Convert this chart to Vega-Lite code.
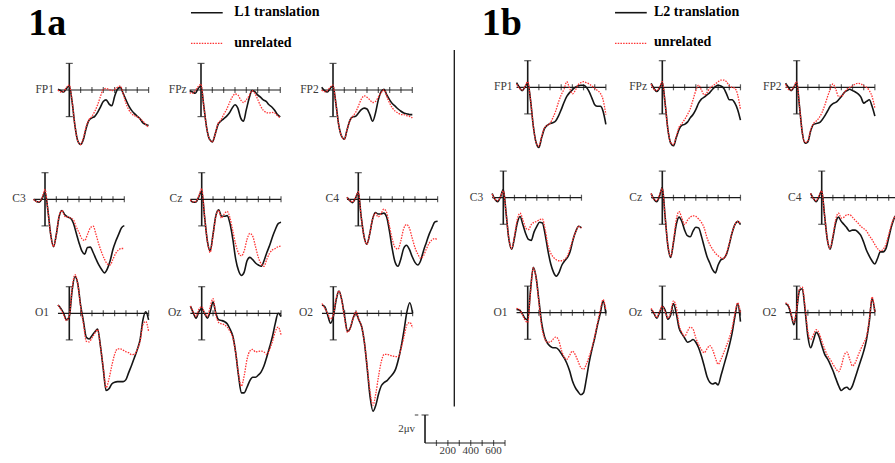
{
"$schema":"https://vega.github.io/schema/vega-lite/v6.json",
"padding":0,
"background":"white",
"config":{"view":{"stroke":null},"rule":{"color":"#1a1a1a","strokeWidth":1.2},"tick":{"color":"#1a1a1a","thickness":1.2},"text":{"font":"Liberation Serif","fontSize":11.5,"color":"#3a3a3a"}},
"datasets":{
"panels":[{"p":"aFP1","ch":"FP1","title":"1a","lk":"L1 translation","lu":"unrelated"},{"p":"aFPz","ch":"FPz"},{"p":"aFP2","ch":"FP2"},{"p":"aC3","ch":"C3"},{"p":"aCz","ch":"Cz"},{"p":"aC4","ch":"C4"},{"p":"aO1","ch":"O1"},{"p":"aOz","ch":"Oz"},{"p":"aO2","ch":"O2"},{"p":"bFP1","ch":"FP1","title":"1b","lk":"L2 translation","lu":"unrelated"},{"p":"bFPz","ch":"FPz"},{"p":"bFP2","ch":"FP2"},{"p":"bC3","ch":"C3"},{"p":"bCz","ch":"Cz"},{"p":"bC4","ch":"C4"},{"p":"bO1","ch":"O1"},{"p":"bOz","ch":"Oz"},{"p":"bO2","ch":"O2"}],
"sbticks":[{"t":0,"lab":"","unit":"2μv"},{"t":100,"lab":""},{"t":200,"lab":"200"},{"t":300,"lab":""},{"t":400,"lab":"400"},{"t":500,"lab":""},{"t":600,"lab":"600"},{"t":700,"lab":""}],
"erp":[
{"p":"aFP1","t":-100,"k":0.05,"u":0},{"p":"aFP1","t":-75,"k":-0.05,"u":-0.15},{"p":"aFP1","t":-50,"k":-0.15,"u":-0.1},{"p":"aFP1","t":-25,"k":0.12,"u":0.2},{"p":"aFP1","t":0,"k":0.3,"u":0.37},{"p":"aFP1","t":25,"k":-0.9,"u":-0.85},{"p":"aFP1","t":50,"k":-2.7,"u":-2.7},{"p":"aFP1","t":75,"k":-3.83,"u":-3.83},{"p":"aFP1","t":100,"k":-4.1,"u":-4.1},{"p":"aFP1","t":125,"k":-3.7,"u":-3.58},{"p":"aFP1","t":150,"k":-2.84,"u":-2.72},{"p":"aFP1","t":175,"k":-2.27,"u":-2.22},{"p":"aFP1","t":200,"k":-2.1,"u":-1.98},{"p":"aFP1","t":225,"k":-1.98,"u":-1.6},{"p":"aFP1","t":250,"k":-1.68,"u":-1.11},{"p":"aFP1","t":275,"k":-1.28,"u":-0.49},{"p":"aFP1","t":300,"k":-0.86,"u":0.05},{"p":"aFP1","t":325,"k":-0.74,"u":0.12},{"p":"aFP1","t":350,"k":-1.04,"u":0.05},{"p":"aFP1","t":375,"k":-1.19,"u":-0.05},{"p":"aFP1","t":400,"k":-0.49,"u":0.05},{"p":"aFP1","t":425,"k":0.05,"u":0.2},{"p":"aFP1","t":450,"k":0.2,"u":0.3},{"p":"aFP1","t":475,"k":-0.25,"u":-0.25},{"p":"aFP1","t":500,"k":-0.74,"u":-0.99},{"p":"aFP1","t":525,"k":-1.19,"u":-1.48},{"p":"aFP1","t":550,"k":-1.53,"u":-1.78},{"p":"aFP1","t":575,"k":-1.78,"u":-1.93},{"p":"aFP1","t":600,"k":-1.98,"u":-2.02},{"p":"aFP1","t":625,"k":-2.17,"u":-2.17},{"p":"aFP1","t":650,"k":-2.47,"u":-2.35},{"p":"aFP1","t":675,"k":-2.59,"u":-2.59},{"p":"aFP1","t":700,"k":-2.67,"u":-2.84},
{"p":"aFPz","t":-100,"k":-0.05,"u":-0.2},{"p":"aFPz","t":-75,"k":-0.15,"u":-0.25},{"p":"aFPz","t":-50,"k":-0.25,"u":-0.05},{"p":"aFPz","t":-25,"k":0.12,"u":0.25},{"p":"aFPz","t":0,"k":0.3,"u":0.44},{"p":"aFPz","t":25,"k":-1.23,"u":-1.23},{"p":"aFPz","t":50,"k":-2.84,"u":-2.84},{"p":"aFPz","t":75,"k":-3.7,"u":-3.7},{"p":"aFPz","t":100,"k":-3.9,"u":-3.9},{"p":"aFPz","t":125,"k":-3.33,"u":-3.33},{"p":"aFPz","t":150,"k":-2.6,"u":-2.52},{"p":"aFPz","t":175,"k":-2.35,"u":-2.27},{"p":"aFPz","t":200,"k":-2.17,"u":-1.85},{"p":"aFPz","t":225,"k":-1.98,"u":-1.48},{"p":"aFPz","t":250,"k":-1.73,"u":-0.99},{"p":"aFPz","t":275,"k":-1.36,"u":-0.54},{"p":"aFPz","t":300,"k":-1.11,"u":-0.3},{"p":"aFPz","t":325,"k":-1.36,"u":-0.37},{"p":"aFPz","t":350,"k":-2.1,"u":-0.74},{"p":"aFPz","t":375,"k":-2.35,"u":-0.94},{"p":"aFPz","t":400,"k":-1.48,"u":-0.74},{"p":"aFPz","t":425,"k":-0.62,"u":-0.44},{"p":"aFPz","t":450,"k":-0.05,"u":-0.05},{"p":"aFPz","t":475,"k":-0.12,"u":-0.25},{"p":"aFPz","t":500,"k":-0.37,"u":-0.69},{"p":"aFPz","t":525,"k":-0.54,"u":-1.19},{"p":"aFPz","t":550,"k":-0.74,"u":-1.53},{"p":"aFPz","t":575,"k":-0.86,"u":-1.68},{"p":"aFPz","t":600,"k":-1.11,"u":-1.73},{"p":"aFPz","t":625,"k":-1.28,"u":-1.68},{"p":"aFPz","t":650,"k":-1.53,"u":-1.73},{"p":"aFPz","t":675,"k":-1.85,"u":-1.93},{"p":"aFPz","t":700,"k":-2.02,"u":-2.1},
{"p":"aFP2","t":-100,"k":0.2,"u":0},{"p":"aFP2","t":-75,"k":-0.05,"u":-0.12},{"p":"aFP2","t":-50,"k":-0.15,"u":-0.05},{"p":"aFP2","t":-25,"k":0.12,"u":0.2},{"p":"aFP2","t":0,"k":0.3,"u":0.37},{"p":"aFP2","t":25,"k":-0.99,"u":-0.99},{"p":"aFP2","t":50,"k":-2.6,"u":-2.6},{"p":"aFP2","t":75,"k":-3.46,"u":-3.46},{"p":"aFP2","t":100,"k":-3.7,"u":-3.7},{"p":"aFP2","t":125,"k":-2.96,"u":-2.96},{"p":"aFP2","t":150,"k":-2.27,"u":-2.27},{"p":"aFP2","t":175,"k":-2.02,"u":-1.98},{"p":"aFP2","t":200,"k":-1.98,"u":-1.68},{"p":"aFP2","t":225,"k":-1.73,"u":-1.19},{"p":"aFP2","t":250,"k":-1.48,"u":-0.69},{"p":"aFP2","t":275,"k":-1.36,"u":-0.44},{"p":"aFP2","t":300,"k":-1.43,"u":-0.54},{"p":"aFP2","t":325,"k":-1.85,"u":-0.74},{"p":"aFP2","t":350,"k":-2.35,"u":-0.94},{"p":"aFP2","t":375,"k":-1.73,"u":-0.86},{"p":"aFP2","t":400,"k":-0.74,"u":-0.54},{"p":"aFP2","t":425,"k":-0.12,"u":-0.2},{"p":"aFP2","t":450,"k":0.05,"u":0},{"p":"aFP2","t":475,"k":-0.37,"u":-0.49},{"p":"aFP2","t":500,"k":-0.74,"u":-0.99},{"p":"aFP2","t":525,"k":-1.04,"u":-1.36},{"p":"aFP2","t":550,"k":-1.23,"u":-1.6},{"p":"aFP2","t":575,"k":-1.43,"u":-1.73},{"p":"aFP2","t":600,"k":-1.6,"u":-1.85},{"p":"aFP2","t":625,"k":-1.73,"u":-1.85},{"p":"aFP2","t":650,"k":-1.78,"u":-1.93},{"p":"aFP2","t":675,"k":-1.85,"u":-1.98},{"p":"aFP2","t":700,"k":-1.85,"u":-2.1},
{"p":"aC3","t":-100,"k":0,"u":0},{"p":"aC3","t":-75,"k":-0.17,"u":-0.17},{"p":"aC3","t":-50,"k":-0.22,"u":-0.17},{"p":"aC3","t":-25,"k":0.07,"u":0.15},{"p":"aC3","t":0,"k":0.52,"u":0.74},{"p":"aC3","t":25,"k":-0.79,"u":-0.79},{"p":"aC3","t":50,"k":-2.64,"u":-2.64},{"p":"aC3","t":75,"k":-3.56,"u":-3.56},{"p":"aC3","t":100,"k":-2.64,"u":-2.64},{"p":"aC3","t":125,"k":-1.28,"u":-1.23},{"p":"aC3","t":150,"k":-0.84,"u":-0.84},{"p":"aC3","t":175,"k":-1.16,"u":-1.28},{"p":"aC3","t":200,"k":-1.33,"u":-1.33},{"p":"aC3","t":225,"k":-1.41,"u":-1.41},{"p":"aC3","t":250,"k":-1.78,"u":-1.53},{"p":"aC3","t":275,"k":-2.52,"u":-2.07},{"p":"aC3","t":300,"k":-3.26,"u":-2.49},{"p":"aC3","t":325,"k":-3.88,"u":-2.96},{"p":"aC3","t":350,"k":-4.12,"u":-3.09},{"p":"aC3","t":375,"k":-3.63,"u":-2.64},{"p":"aC3","t":400,"k":-3.6,"u":-2.15},{"p":"aC3","t":425,"k":-4.0,"u":-2.02},{"p":"aC3","t":450,"k":-4.49,"u":-2.64},{"p":"aC3","t":475,"k":-4.94,"u":-3.38},{"p":"aC3","t":500,"k":-5.28,"u":-4.0},{"p":"aC3","t":525,"k":-5.53,"u":-4.5},{"p":"aC3","t":550,"k":-5.23,"u":-4.86},{"p":"aC3","t":575,"k":-4.62,"u":-4.94},{"p":"aC3","t":600,"k":-3.75,"u":-4.5},{"p":"aC3","t":625,"k":-3.14,"u":-4.05},{"p":"aC3","t":650,"k":-2.64,"u":-3.8},{"p":"aC3","t":675,"k":-2.15,"u":-3.7},{"p":"aC3","t":700,"k":-1.98,"u":-3.7},
{"p":"aCz","t":-100,"k":-0.05,"u":-0.05},{"p":"aCz","t":-75,"k":-0.22,"u":-0.2},{"p":"aCz","t":-50,"k":-0.2,"u":-0.15},{"p":"aCz","t":-25,"k":0.2,"u":0.25},{"p":"aCz","t":0,"k":0.64,"u":0.81},{"p":"aCz","t":25,"k":-1.28,"u":-1.28},{"p":"aCz","t":50,"k":-3.14,"u":-3.14},{"p":"aCz","t":75,"k":-3.88,"u":-4.0},{"p":"aCz","t":100,"k":-2.64,"u":-2.72},{"p":"aCz","t":125,"k":-1.23,"u":-1.28},{"p":"aCz","t":150,"k":-0.79,"u":-0.84},{"p":"aCz","t":175,"k":-1.28,"u":-1.41},{"p":"aCz","t":200,"k":-1.28,"u":-1.09},{"p":"aCz","t":225,"k":-1.23,"u":-0.91},{"p":"aCz","t":250,"k":-1.83,"u":-1.41},{"p":"aCz","t":275,"k":-3.01,"u":-2.4},{"p":"aCz","t":300,"k":-4.5,"u":-3.38},{"p":"aCz","t":325,"k":-5.36,"u":-4.05},{"p":"aCz","t":350,"k":-5.73,"u":-4.25},{"p":"aCz","t":375,"k":-5.48,"u":-3.88},{"p":"aCz","t":400,"k":-4.62,"u":-3.01},{"p":"aCz","t":425,"k":-4.37,"u":-2.57},{"p":"aCz","t":450,"k":-4.54,"u":-2.77},{"p":"aCz","t":475,"k":-4.79,"u":-3.56},{"p":"aCz","t":500,"k":-4.94,"u":-4.37},{"p":"aCz","t":525,"k":-5.04,"u":-4.86},{"p":"aCz","t":550,"k":-4.62,"u":-5.04},{"p":"aCz","t":575,"k":-4.0,"u":-4.5},{"p":"aCz","t":600,"k":-3.46,"u":-4.05},{"p":"aCz","t":625,"k":-2.81,"u":-3.8},{"p":"aCz","t":650,"k":-2.27,"u":-3.7},{"p":"aCz","t":675,"k":-1.83,"u":-3.56},{"p":"aCz","t":700,"k":-1.73,"u":-3.51},
{"p":"aC4","t":-100,"k":0.15,"u":0.15},{"p":"aC4","t":-75,"k":-0.1,"u":-0.1},{"p":"aC4","t":-50,"k":-0.25,"u":-0.2},{"p":"aC4","t":-25,"k":0.07,"u":0.12},{"p":"aC4","t":0,"k":0.52,"u":0.57},{"p":"aC4","t":25,"k":-1.28,"u":-1.28},{"p":"aC4","t":50,"k":-2.77,"u":-2.77},{"p":"aC4","t":75,"k":-3.38,"u":-3.38},{"p":"aC4","t":100,"k":-2.64,"u":-2.64},{"p":"aC4","t":125,"k":-1.53,"u":-1.53},{"p":"aC4","t":150,"k":-0.99,"u":-1.04},{"p":"aC4","t":175,"k":-1.11,"u":-1.33},{"p":"aC4","t":200,"k":-1.11,"u":-1.09},{"p":"aC4","t":225,"k":-1.04,"u":-0.74},{"p":"aC4","t":250,"k":-1.33,"u":-0.99},{"p":"aC4","t":275,"k":-2.4,"u":-2.02},{"p":"aC4","t":300,"k":-3.75,"u":-3.01},{"p":"aC4","t":325,"k":-4.74,"u":-3.63},{"p":"aC4","t":350,"k":-5.04,"u":-3.75},{"p":"aC4","t":375,"k":-4.5,"u":-3.14},{"p":"aC4","t":400,"k":-3.7,"u":-2.22},{"p":"aC4","t":425,"k":-3.46,"u":-1.9},{"p":"aC4","t":450,"k":-3.75,"u":-2.15},{"p":"aC4","t":475,"k":-4.3,"u":-2.89},{"p":"aC4","t":500,"k":-4.74,"u":-3.63},{"p":"aC4","t":525,"k":-4.94,"u":-4.12},{"p":"aC4","t":550,"k":-4.62,"u":-4.44},{"p":"aC4","t":575,"k":-3.88,"u":-4.25},{"p":"aC4","t":600,"k":-3.26,"u":-3.75},{"p":"aC4","t":625,"k":-2.64,"u":-3.31},{"p":"aC4","t":650,"k":-2.15,"u":-3.06},{"p":"aC4","t":675,"k":-1.7,"u":-2.96},{"p":"aC4","t":700,"k":-1.65,"u":-3.06},
{"p":"aO1","t":-100,"k":0.62,"u":0.62},{"p":"aO1","t":-75,"k":0.37,"u":0.3},{"p":"aO1","t":-50,"k":0,"u":-0.12},{"p":"aO1","t":-25,"k":-0.49,"u":-0.54},{"p":"aO1","t":0,"k":-0.25,"u":-0.2},{"p":"aO1","t":25,"k":1.73,"u":1.85},{"p":"aO1","t":50,"k":2.77,"u":2.91},{"p":"aO1","t":75,"k":2.22,"u":2.22},{"p":"aO1","t":100,"k":0.6,"u":0.5},{"p":"aO1","t":125,"k":-0.6,"u":-0.8},{"p":"aO1","t":150,"k":-1.8,"u":-2.1},{"p":"aO1","t":175,"k":-1.93,"u":-2.15},{"p":"aO1","t":200,"k":-1.68,"u":-1.85},{"p":"aO1","t":225,"k":-1.41,"u":-1.5},{"p":"aO1","t":250,"k":-1.19,"u":-1.23},{"p":"aO1","t":275,"k":-2.47,"u":-2.5},{"p":"aO1","t":300,"k":-4.2,"u":-4.1},{"p":"aO1","t":325,"k":-5.8,"u":-5.6},{"p":"aO1","t":350,"k":-5.68,"u":-4.94},{"p":"aO1","t":375,"k":-5.31,"u":-3.95},{"p":"aO1","t":400,"k":-5.19,"u":-3.1},{"p":"aO1","t":425,"k":-5.14,"u":-2.67},{"p":"aO1","t":450,"k":-5.14,"u":-2.67},{"p":"aO1","t":475,"k":-5.14,"u":-2.77},{"p":"aO1","t":500,"k":-4.99,"u":-2.89},{"p":"aO1","t":525,"k":-4.44,"u":-2.96},{"p":"aO1","t":550,"k":-3.9,"u":-3.11},{"p":"aO1","t":575,"k":-3.33,"u":-3.09},{"p":"aO1","t":600,"k":-2.72,"u":-2.72},{"p":"aO1","t":625,"k":-1.98,"u":-2.1},{"p":"aO1","t":650,"k":-0.49,"u":-0.86},{"p":"aO1","t":675,"k":0.12,"u":-0.62},{"p":"aO1","t":700,"k":-0.49,"u":-1.36},
{"p":"aOz","t":-100,"k":0.54,"u":0.54},{"p":"aOz","t":-75,"k":0.05,"u":0.12},{"p":"aOz","t":-50,"k":-0.37,"u":-0.25},{"p":"aOz","t":-25,"k":0.12,"u":0.3},{"p":"aOz","t":0,"k":0.37,"u":0.49},{"p":"aOz","t":25,"k":0,"u":0.05},{"p":"aOz","t":50,"k":-0.37,"u":-0.25},{"p":"aOz","t":75,"k":0.12,"u":0.49},{"p":"aOz","t":100,"k":0.86,"u":1.11},{"p":"aOz","t":125,"k":0,"u":-0.12},{"p":"aOz","t":150,"k":-0.49,"u":-0.69},{"p":"aOz","t":175,"k":-0.54,"u":-0.79},{"p":"aOz","t":200,"k":-0.62,"u":-0.86},{"p":"aOz","t":225,"k":-0.79,"u":-1.04},{"p":"aOz","t":250,"k":-1.19,"u":-1.36},{"p":"aOz","t":275,"k":-1.73,"u":-1.85},{"p":"aOz","t":300,"k":-2.96,"u":-2.96},{"p":"aOz","t":325,"k":-4.69,"u":-4.57},{"p":"aOz","t":350,"k":-5.98,"u":-5.48},{"p":"aOz","t":375,"k":-5.98,"u":-4.69},{"p":"aOz","t":400,"k":-5.56,"u":-3.46},{"p":"aOz","t":425,"k":-5.06,"u":-2.84},{"p":"aOz","t":450,"k":-4.81,"u":-2.72},{"p":"aOz","t":475,"k":-4.81,"u":-2.91},{"p":"aOz","t":500,"k":-4.64,"u":-2.86},{"p":"aOz","t":525,"k":-4.4,"u":-2.84},{"p":"aOz","t":550,"k":-3.95,"u":-2.91},{"p":"aOz","t":575,"k":-3.26,"u":-3.09},{"p":"aOz","t":600,"k":-2.52,"u":-2.72},{"p":"aOz","t":625,"k":-1.73,"u":-2.1},{"p":"aOz","t":650,"k":-0.74,"u":-1.36},{"p":"aOz","t":675,"k":0,"u":-1.04},{"p":"aOz","t":700,"k":-0.25,"u":-1.6},
{"p":"aO2","t":-100,"k":0.62,"u":0.74},{"p":"aO2","t":-75,"k":0.49,"u":0.37},{"p":"aO2","t":-50,"k":-0.12,"u":0},{"p":"aO2","t":-25,"k":-0.74,"u":-0.44},{"p":"aO2","t":0,"k":-0.25,"u":-0.12},{"p":"aO2","t":25,"k":0.99,"u":1.11},{"p":"aO2","t":50,"k":1.68,"u":1.68},{"p":"aO2","t":75,"k":0.99,"u":0.94},{"p":"aO2","t":100,"k":-0.25,"u":-0.37},{"p":"aO2","t":125,"k":-1.36,"u":-1.43},{"p":"aO2","t":150,"k":-1.11,"u":-1.11},{"p":"aO2","t":175,"k":-0.37,"u":-0.37},{"p":"aO2","t":200,"k":0.05,"u":0.12},{"p":"aO2","t":225,"k":-0.49,"u":-0.49},{"p":"aO2","t":250,"k":-0.99,"u":-0.99},{"p":"aO2","t":275,"k":-2.22,"u":-2.22},{"p":"aO2","t":300,"k":-4.2,"u":-4.07},{"p":"aO2","t":325,"k":-6.3,"u":-5.93},{"p":"aO2","t":350,"k":-7.36,"u":-6.91},{"p":"aO2","t":375,"k":-6.91,"u":-6.05},{"p":"aO2","t":400,"k":-6.05,"u":-4.69},{"p":"aO2","t":425,"k":-5.43,"u":-3.58},{"p":"aO2","t":450,"k":-5.19,"u":-3.09},{"p":"aO2","t":475,"k":-5.06,"u":-3.09},{"p":"aO2","t":500,"k":-4.81,"u":-3.16},{"p":"aO2","t":525,"k":-4.57,"u":-3.21},{"p":"aO2","t":550,"k":-4.2,"u":-3.26},{"p":"aO2","t":575,"k":-3.46,"u":-3.26},{"p":"aO2","t":600,"k":-2.47,"u":-2.59},{"p":"aO2","t":625,"k":-1.23,"u":-1.73},{"p":"aO2","t":650,"k":0.12,"u":-0.86},{"p":"aO2","t":675,"k":0.79,"u":-0.69},{"p":"aO2","t":700,"k":0,"u":-1.11},
{"p":"bFP1","t":-100,"k":0.35,"u":0.25},{"p":"bFP1","t":-75,"k":0,"u":-0.07},{"p":"bFP1","t":-50,"k":-0.25,"u":-0.2},{"p":"bFP1","t":-25,"k":0,"u":0.05},{"p":"bFP1","t":0,"k":0.35,"u":0.42},{"p":"bFP1","t":25,"k":-0.94,"u":-0.94},{"p":"bFP1","t":50,"k":-2.91,"u":-2.91},{"p":"bFP1","t":75,"k":-4.15,"u":-4.15},{"p":"bFP1","t":100,"k":-4.52,"u":-4.44},{"p":"bFP1","t":125,"k":-3.78,"u":-3.7},{"p":"bFP1","t":150,"k":-3.11,"u":-3.04},{"p":"bFP1","t":175,"k":-2.86,"u":-2.86},{"p":"bFP1","t":200,"k":-2.72,"u":-2.72},{"p":"bFP1","t":225,"k":-2.67,"u":-2.3},{"p":"bFP1","t":250,"k":-2.54,"u":-1.8},{"p":"bFP1","t":275,"k":-2.17,"u":-1.14},{"p":"bFP1","t":300,"k":-1.68,"u":-0.57},{"p":"bFP1","t":325,"k":-1.14,"u":-0.15},{"p":"bFP1","t":350,"k":-0.69,"u":0.42},{"p":"bFP1","t":375,"k":-0.4,"u":-0.07},{"p":"bFP1","t":400,"k":-0.2,"u":-0.49},{"p":"bFP1","t":425,"k":0,"u":-0.25},{"p":"bFP1","t":450,"k":0.1,"u":0.17},{"p":"bFP1","t":475,"k":0.15,"u":0.35},{"p":"bFP1","t":500,"k":0.15,"u":0.42},{"p":"bFP1","t":525,"k":0,"u":0.35},{"p":"bFP1","t":550,"k":-0.32,"u":0.25},{"p":"bFP1","t":575,"k":-0.81,"u":0.1},{"p":"bFP1","t":600,"k":-1.31,"u":-0.07},{"p":"bFP1","t":625,"k":-1.43,"u":-0.25},{"p":"bFP1","t":650,"k":-1.43,"u":-0.44},{"p":"bFP1","t":675,"k":-1.8,"u":-0.94},{"p":"bFP1","t":700,"k":-2.79,"u":-2.05},
{"p":"bFPz","t":-100,"k":0.3,"u":0.25},{"p":"bFPz","t":-75,"k":-0.07,"u":-0.15},{"p":"bFPz","t":-50,"k":-0.32,"u":-0.25},{"p":"bFPz","t":-25,"k":-0.07,"u":0},{"p":"bFPz","t":0,"k":0.35,"u":0.42},{"p":"bFPz","t":25,"k":-1.19,"u":-1.19},{"p":"bFPz","t":50,"k":-3.16,"u":-3.16},{"p":"bFPz","t":75,"k":-4.2,"u":-4.15},{"p":"bFPz","t":100,"k":-4.4,"u":-4.3},{"p":"bFPz","t":125,"k":-3.78,"u":-3.7},{"p":"bFPz","t":150,"k":-3.16,"u":-3.01},{"p":"bFPz","t":175,"k":-2.86,"u":-2.72},{"p":"bFPz","t":200,"k":-2.79,"u":-2.42},{"p":"bFPz","t":225,"k":-2.62,"u":-2.05},{"p":"bFPz","t":250,"k":-2.3,"u":-1.63},{"p":"bFPz","t":275,"k":-2.05,"u":-0.94},{"p":"bFPz","t":300,"k":-1.68,"u":-0.25},{"p":"bFPz","t":325,"k":-1.19,"u":0.17},{"p":"bFPz","t":350,"k":-0.89,"u":-0.2},{"p":"bFPz","t":375,"k":-0.74,"u":-0.57},{"p":"bFPz","t":400,"k":-0.57,"u":-0.4},{"p":"bFPz","t":425,"k":-0.4,"u":-0.07},{"p":"bFPz","t":450,"k":-0.15,"u":0.1},{"p":"bFPz","t":475,"k":0.05,"u":0.25},{"p":"bFPz","t":500,"k":0.15,"u":0.42},{"p":"bFPz","t":525,"k":0.1,"u":0.54},{"p":"bFPz","t":550,"k":-0.07,"u":0.54},{"p":"bFPz","t":575,"k":-0.49,"u":0.42},{"p":"bFPz","t":600,"k":-0.94,"u":0.1},{"p":"bFPz","t":625,"k":-0.94,"u":0},{"p":"bFPz","t":650,"k":-1.19,"u":-0.07},{"p":"bFPz","t":675,"k":-1.68,"u":-0.57},{"p":"bFPz","t":700,"k":-2.47,"u":-1.68},
{"p":"bFP2","t":-100,"k":0.3,"u":0.25},{"p":"bFP2","t":-75,"k":0,"u":-0.15},{"p":"bFP2","t":-50,"k":-0.25,"u":-0.2},{"p":"bFP2","t":-25,"k":0,"u":0.05},{"p":"bFP2","t":0,"k":0.35,"u":0.42},{"p":"bFP2","t":25,"k":-1.43,"u":-1.43},{"p":"bFP2","t":50,"k":-3.41,"u":-3.41},{"p":"bFP2","t":75,"k":-4.2,"u":-4.15},{"p":"bFP2","t":100,"k":-4.1,"u":-4.02},{"p":"bFP2","t":125,"k":-3.28,"u":-3.21},{"p":"bFP2","t":150,"k":-2.79,"u":-2.72},{"p":"bFP2","t":175,"k":-2.72,"u":-2.54},{"p":"bFP2","t":200,"k":-2.67,"u":-2.3},{"p":"bFP2","t":225,"k":-2.47,"u":-1.93},{"p":"bFP2","t":250,"k":-2.17,"u":-1.38},{"p":"bFP2","t":275,"k":-1.8,"u":-0.74},{"p":"bFP2","t":300,"k":-1.43,"u":-0.15},{"p":"bFP2","t":325,"k":-1.23,"u":0.25},{"p":"bFP2","t":350,"k":-1.14,"u":-0.15},{"p":"bFP2","t":375,"k":-0.94,"u":-0.69},{"p":"bFP2","t":400,"k":-0.69,"u":-0.69},{"p":"bFP2","t":425,"k":-0.4,"u":-0.4},{"p":"bFP2","t":450,"k":-0.25,"u":-0.15},{"p":"bFP2","t":475,"k":-0.15,"u":0},{"p":"bFP2","t":500,"k":-0.25,"u":0.1},{"p":"bFP2","t":525,"k":-0.35,"u":0.25},{"p":"bFP2","t":550,"k":-0.49,"u":0.3},{"p":"bFP2","t":575,"k":-0.74,"u":0.25},{"p":"bFP2","t":600,"k":-1.19,"u":0.1},{"p":"bFP2","t":625,"k":-1.06,"u":0},{"p":"bFP2","t":650,"k":-0.94,"u":-0.25},{"p":"bFP2","t":675,"k":-1.43,"u":-0.69},{"p":"bFP2","t":700,"k":-2.17,"u":-1.56},
{"p":"bC3","t":-100,"k":0.32,"u":0.27},{"p":"bC3","t":-75,"k":-0.12,"u":-0.12},{"p":"bC3","t":-50,"k":-0.3,"u":-0.22},{"p":"bC3","t":-25,"k":0.07,"u":0.07},{"p":"bC3","t":0,"k":0.62,"u":0.52},{"p":"bC3","t":25,"k":-1.16,"u":-1.16},{"p":"bC3","t":50,"k":-3.14,"u":-3.09},{"p":"bC3","t":75,"k":-3.88,"u":-3.83},{"p":"bC3","t":100,"k":-3.01,"u":-2.89},{"p":"bC3","t":125,"k":-1.9,"u":-1.65},{"p":"bC3","t":150,"k":-1.41,"u":-1.16},{"p":"bC3","t":175,"k":-2.02,"u":-1.65},{"p":"bC3","t":200,"k":-2.69,"u":-2.27},{"p":"bC3","t":225,"k":-3.14,"u":-2.4},{"p":"bC3","t":250,"k":-3.21,"u":-2.02},{"p":"bC3","t":275,"k":-2.59,"u":-1.85},{"p":"bC3","t":300,"k":-2.15,"u":-1.78},{"p":"bC3","t":325,"k":-1.85,"u":-1.65},{"p":"bC3","t":350,"k":-1.9,"u":-1.6},{"p":"bC3","t":375,"k":-2.77,"u":-2.4},{"p":"bC3","t":400,"k":-4.0,"u":-3.58},{"p":"bC3","t":425,"k":-4.99,"u":-4.17},{"p":"bC3","t":450,"k":-5.61,"u":-4.49},{"p":"bC3","t":475,"k":-5.9,"u":-4.67},{"p":"bC3","t":500,"k":-5.61,"u":-4.74},{"p":"bC3","t":525,"k":-5.06,"u":-4.74},{"p":"bC3","t":550,"k":-4.74,"u":-4.62},{"p":"bC3","t":575,"k":-4.49,"u":-4.37},{"p":"bC3","t":600,"k":-4.0,"u":-3.75},{"p":"bC3","t":625,"k":-3.14,"u":-3.09},{"p":"bC3","t":650,"k":-2.52,"u":-2.52},{"p":"bC3","t":675,"k":-2.15,"u":-2.15},{"p":"bC3","t":700,"k":-2.27,"u":-2.27},
{"p":"bCz","t":-100,"k":0.32,"u":0.32},{"p":"bCz","t":-75,"k":-0.12,"u":-0.12},{"p":"bCz","t":-50,"k":-0.3,"u":-0.22},{"p":"bCz","t":-25,"k":0.12,"u":0.2},{"p":"bCz","t":0,"k":0.77,"u":0.69},{"p":"bCz","t":25,"k":-1.41,"u":-1.41},{"p":"bCz","t":50,"k":-3.63,"u":-3.58},{"p":"bCz","t":75,"k":-4.49,"u":-4.42},{"p":"bCz","t":100,"k":-3.38,"u":-3.26},{"p":"bCz","t":125,"k":-2.02,"u":-1.65},{"p":"bCz","t":150,"k":-1.46,"u":-1.04},{"p":"bCz","t":175,"k":-1.78,"u":-1.53},{"p":"bCz","t":200,"k":-2.44,"u":-2.02},{"p":"bCz","t":225,"k":-2.86,"u":-1.7},{"p":"bCz","t":250,"k":-2.94,"u":-1.46},{"p":"bCz","t":275,"k":-2.52,"u":-1.36},{"p":"bCz","t":300,"k":-2.22,"u":-1.41},{"p":"bCz","t":325,"k":-2.27,"u":-1.6},{"p":"bCz","t":350,"k":-2.89,"u":-1.85},{"p":"bCz","t":375,"k":-3.68,"u":-2.27},{"p":"bCz","t":400,"k":-4.42,"u":-3.01},{"p":"bCz","t":425,"k":-4.91,"u":-3.51},{"p":"bCz","t":450,"k":-5.41,"u":-3.88},{"p":"bCz","t":475,"k":-5.65,"u":-4.17},{"p":"bCz","t":500,"k":-5.06,"u":-4.37},{"p":"bCz","t":525,"k":-4.67,"u":-4.52},{"p":"bCz","t":550,"k":-4.57,"u":-4.57},{"p":"bCz","t":575,"k":-4.25,"u":-4.17},{"p":"bCz","t":600,"k":-3.51,"u":-3.43},{"p":"bCz","t":625,"k":-2.64,"u":-2.62},{"p":"bCz","t":650,"k":-2.02,"u":-2.02},{"p":"bCz","t":675,"k":-1.78,"u":-1.78},{"p":"bCz","t":700,"k":-2.02,"u":-1.95},
{"p":"bC4","t":-100,"k":0.32,"u":0.32},{"p":"bC4","t":-75,"k":-0.05,"u":-0.05},{"p":"bC4","t":-50,"k":-0.3,"u":-0.22},{"p":"bC4","t":-25,"k":0.07,"u":0.12},{"p":"bC4","t":0,"k":0.52,"u":0.52},{"p":"bC4","t":25,"k":-1.28,"u":-1.28},{"p":"bC4","t":50,"k":-3.14,"u":-3.09},{"p":"bC4","t":75,"k":-3.88,"u":-3.83},{"p":"bC4","t":100,"k":-3.01,"u":-2.89},{"p":"bC4","t":125,"k":-1.9,"u":-1.65},{"p":"bC4","t":150,"k":-1.46,"u":-1.16},{"p":"bC4","t":175,"k":-1.78,"u":-1.53},{"p":"bC4","t":200,"k":-2.02,"u":-1.46},{"p":"bC4","t":225,"k":-2.27,"u":-1.28},{"p":"bC4","t":250,"k":-2.52,"u":-1.28},{"p":"bC4","t":275,"k":-2.44,"u":-1.46},{"p":"bC4","t":300,"k":-2.44,"u":-1.7},{"p":"bC4","t":325,"k":-2.59,"u":-1.9},{"p":"bC4","t":350,"k":-2.84,"u":-2.15},{"p":"bC4","t":375,"k":-3.33,"u":-2.32},{"p":"bC4","t":400,"k":-3.93,"u":-2.49},{"p":"bC4","t":425,"k":-4.37,"u":-2.84},{"p":"bC4","t":450,"k":-4.74,"u":-3.14},{"p":"bC4","t":475,"k":-4.99,"u":-3.51},{"p":"bC4","t":500,"k":-4.57,"u":-3.83},{"p":"bC4","t":525,"k":-4.07,"u":-4.0},{"p":"bC4","t":550,"k":-4.07,"u":-3.88},{"p":"bC4","t":575,"k":-3.83,"u":-3.51},{"p":"bC4","t":600,"k":-3.01,"u":-2.77},{"p":"bC4","t":625,"k":-2.15,"u":-2.02},{"p":"bC4","t":650,"k":-1.53,"u":-1.46},{"p":"bC4","t":675,"k":-1.28,"u":-1.28},{"p":"bC4","t":700,"k":-1.41,"u":-1.41},
{"p":"bO1","t":-100,"k":0.25,"u":0.32},{"p":"bO1","t":-75,"k":0.2,"u":0.25},{"p":"bO1","t":-50,"k":-0.05,"u":-0.1},{"p":"bO1","t":-25,"k":-0.42,"u":-0.54},{"p":"bO1","t":0,"k":-0.54,"u":-0.74},{"p":"bO1","t":25,"k":1.68,"u":1.56},{"p":"bO1","t":50,"k":3.41,"u":3.36},{"p":"bO1","t":75,"k":2.67,"u":2.62},{"p":"bO1","t":100,"k":0.94,"u":0.81},{"p":"bO1","t":125,"k":-0.79,"u":-1.04},{"p":"bO1","t":150,"k":-1.78,"u":-1.9},{"p":"bO1","t":175,"k":-2.27,"u":-2.22},{"p":"bO1","t":200,"k":-2.52,"u":-2.22},{"p":"bO1","t":225,"k":-2.64,"u":-2.02},{"p":"bO1","t":250,"k":-2.64,"u":-1.83},{"p":"bO1","t":275,"k":-2.77,"u":-2.02},{"p":"bO1","t":300,"k":-3.06,"u":-2.77},{"p":"bO1","t":325,"k":-3.38,"u":-3.31},{"p":"bO1","t":350,"k":-3.8,"u":-3.51},{"p":"bO1","t":375,"k":-4.37,"u":-3.21},{"p":"bO1","t":400,"k":-5.11,"u":-2.89},{"p":"bO1","t":425,"k":-5.61,"u":-3.14},{"p":"bO1","t":450,"k":-5.93,"u":-3.63},{"p":"bO1","t":475,"k":-6.17,"u":-4.12},{"p":"bO1","t":500,"k":-6.02,"u":-4.25},{"p":"bO1","t":525,"k":-4.99,"u":-3.88},{"p":"bO1","t":550,"k":-3.75,"u":-3.31},{"p":"bO1","t":575,"k":-2.77,"u":-2.64},{"p":"bO1","t":600,"k":-1.9,"u":-1.78},{"p":"bO1","t":625,"k":-0.91,"u":-0.79},{"p":"bO1","t":650,"k":-0.05,"u":0.2},{"p":"bO1","t":675,"k":0.89,"u":0.99},{"p":"bO1","t":700,"k":-0.05,"u":0.2},
{"p":"bOz","t":-100,"k":0.25,"u":0.32},{"p":"bOz","t":-75,"k":-0.05,"u":0},{"p":"bOz","t":-50,"k":-0.42,"u":-0.35},{"p":"bOz","t":-25,"k":0,"u":0.07},{"p":"bOz","t":0,"k":0.49,"u":0.49},{"p":"bOz","t":25,"k":0.2,"u":0.07},{"p":"bOz","t":50,"k":-0.49,"u":-0.42},{"p":"bOz","t":75,"k":-0.17,"u":0},{"p":"bOz","t":100,"k":0.69,"u":0.89},{"p":"bOz","t":125,"k":-0.05,"u":0.44},{"p":"bOz","t":150,"k":-1.16,"u":-0.91},{"p":"bOz","t":175,"k":-1.58,"u":-1.48},{"p":"bOz","t":200,"k":-1.9,"u":-1.78},{"p":"bOz","t":225,"k":-2.22,"u":-1.41},{"p":"bOz","t":250,"k":-2.15,"u":-1.09},{"p":"bOz","t":275,"k":-2.02,"u":-1.23},{"p":"bOz","t":300,"k":-2.22,"u":-1.9},{"p":"bOz","t":325,"k":-2.64,"u":-2.4},{"p":"bOz","t":350,"k":-3.26,"u":-2.77},{"p":"bOz","t":375,"k":-4.0,"u":-3.01},{"p":"bOz","t":400,"k":-4.79,"u":-2.72},{"p":"bOz","t":425,"k":-5.23,"u":-2.47},{"p":"bOz","t":450,"k":-5.36,"u":-2.77},{"p":"bOz","t":475,"k":-5.28,"u":-3.38},{"p":"bOz","t":500,"k":-5.43,"u":-3.88},{"p":"bOz","t":525,"k":-4.74,"u":-3.51},{"p":"bOz","t":550,"k":-4.0,"u":-3.01},{"p":"bOz","t":575,"k":-3.26,"u":-2.47},{"p":"bOz","t":600,"k":-2.47,"u":-1.9},{"p":"bOz","t":625,"k":-1.53,"u":-1.16},{"p":"bOz","t":650,"k":-0.3,"u":-0.05},{"p":"bOz","t":675,"k":0.69,"u":0.74},{"p":"bOz","t":700,"k":-0.67,"u":-0.05},
{"p":"bO2","t":-100,"k":0.69,"u":0.74},{"p":"bO2","t":-75,"k":0.49,"u":0.57},{"p":"bO2","t":-50,"k":-0.17,"u":-0.05},{"p":"bO2","t":-25,"k":-0.91,"u":-0.74},{"p":"bO2","t":0,"k":0.2,"u":0.32},{"p":"bO2","t":25,"k":1.68,"u":1.8},{"p":"bO2","t":50,"k":1.8,"u":1.93},{"p":"bO2","t":75,"k":0.2,"u":0.44},{"p":"bO2","t":100,"k":-1.78,"u":-1.41},{"p":"bO2","t":125,"k":-2.64,"u":-2.02},{"p":"bO2","t":150,"k":-2.07,"u":-1.65},{"p":"bO2","t":175,"k":-1.48,"u":-1.28},{"p":"bO2","t":200,"k":-1.78,"u":-1.53},{"p":"bO2","t":225,"k":-2.49,"u":-2.15},{"p":"bO2","t":250,"k":-3.11,"u":-2.72},{"p":"bO2","t":275,"k":-3.46,"u":-3.21},{"p":"bO2","t":300,"k":-3.88,"u":-3.51},{"p":"bO2","t":325,"k":-4.37,"u":-3.88},{"p":"bO2","t":350,"k":-4.94,"u":-4.2},{"p":"bO2","t":375,"k":-5.48,"u":-4.44},{"p":"bO2","t":400,"k":-5.85,"u":-4.0},{"p":"bO2","t":425,"k":-5.68,"u":-3.21},{"p":"bO2","t":450,"k":-5.61,"u":-2.96},{"p":"bO2","t":475,"k":-5.78,"u":-3.51},{"p":"bO2","t":500,"k":-5.48,"u":-4.0},{"p":"bO2","t":525,"k":-4.86,"u":-3.75},{"p":"bO2","t":550,"k":-4.2,"u":-3.21},{"p":"bO2","t":575,"k":-3.56,"u":-2.72},{"p":"bO2","t":600,"k":-2.89,"u":-2.27},{"p":"bO2","t":625,"k":-2.02,"u":-1.78},{"p":"bO2","t":650,"k":-0.67,"u":-0.54},{"p":"bO2","t":675,"k":1.06,"u":1.19},{"p":"bO2","t":700,"k":0.07,"u":0.07}
]},
"columns":6,
"spacing":0,
"bounds":"flush",
"concat":[
{"width":150,"height":110,"data":{"name":"erp"},"transform":[{"filter":"datum.p==='aFP1'"},{"lookup":"p","from":{"data":{"name":"panels"},"key":"p","fields":["ch","title","lk","lu"]}}],
"encoding":{"x":{"field":"t","type":"quantitative","scale":{"domain":[-611.6,712.3],"nice":false,"zero":false},"axis":null},"y":{"field":"k","type":"quantitative","scale":{"domain":[-1.504,6.767],"nice":false,"zero":false},"axis":null}},
"layer":[
{"transform":[{"filter":"datum.t===0"}],"mark":"rule","encoding":{"x":{"datum":-100},"x2":{"datum":700},"y":{"datum":0}}},
{"transform":[{"filter":"datum.t>0&&datum.t%100===0"}],"mark":{"type":"tick","orient":"vertical","size":6},"encoding":{"y":{"datum":0}}},
{"transform":[{"filter":"datum.t===0"}],"mark":{"type":"rule","strokeWidth":1.6},"encoding":{"x":{"datum":0},"y":{"datum":-2},"y2":{"datum":2}}},
{"transform":[{"filter":"datum.t===0"}],"mark":{"type":"tick","orient":"horizontal","size":7},"encoding":{"x":{"datum":0},"y":{"datum":2}}},
{"transform":[{"filter":"datum.t===0"}],"mark":{"type":"tick","orient":"horizontal","size":7},"encoding":{"x":{"datum":0},"y":{"datum":-2}}},
{"mark":{"type":"line","color":"#151515","strokeWidth":1.6,"interpolate":"monotone"}},
{"mark":{"type":"line","color":"#ff3333","strokeWidth":1.3,"strokeDash":[1.5,1.2],"interpolate":"monotone"},"encoding":{"y":{"field":"u","type":"quantitative"}}},
{"transform":[{"filter":"datum.t===0"}],"mark":{"type":"text","align":"right","baseline":"middle","dx":-4},"encoding":{"x":{"datum":-100},"y":{"datum":0},"text":{"field":"ch"}}},
{"transform":[{"filter":"datum.t===0"}],"mark":{"type":"text","align":"left","baseline":"alphabetic","fontWeight":"bold","fontSize":38,"color":"#000"},"encoding":{"x":{"datum":-362},"y":{"datum":4.135},"text":{"field":"title"}}},
{"transform":[{"filter":"datum.t===0"}],"mark":{"type":"rule","color":"#151515","strokeWidth":1.6},"encoding":{"x":{"datum":1074},"x2":{"datum":1354},"y":{"datum":5.81}}},
{"transform":[{"filter":"datum.t===0"}],"mark":{"type":"rule","color":"#ff3333","strokeWidth":1.3,"strokeDash":[1.5,1.2]},"encoding":{"x":{"datum":1074},"x2":{"datum":1354},"y":{"datum":3.51}}},
{"transform":[{"filter":"datum.t===0"}],"mark":{"type":"text","align":"left","baseline":"middle","fontWeight":"bold","fontSize":14,"color":"#000"},"encoding":{"x":{"datum":1456},"y":{"datum":5.88},"text":{"field":"lk"}}},
{"transform":[{"filter":"datum.t===0"}],"mark":{"type":"text","align":"left","baseline":"middle","fontWeight":"bold","fontSize":14,"color":"#000"},"encoding":{"x":{"datum":1456},"y":{"datum":3.57},"text":{"field":"lu"}}}
]},
{"width":150,"height":110,"data":{"name":"erp"},"transform":[{"filter":"datum.p==='aFPz'"},{"lookup":"p","from":{"data":{"name":"panels"},"key":"p","fields":["ch"]}}],
"encoding":{"x":{"field":"t","type":"quantitative","scale":{"domain":[-450.1,873.8],"nice":false,"zero":false},"axis":null},"y":{"field":"k","type":"quantitative","scale":{"domain":[-1.504,6.767],"nice":false,"zero":false},"axis":null}},
"layer":[
{"transform":[{"filter":"datum.t===0"}],"mark":"rule","encoding":{"x":{"datum":-100},"x2":{"datum":700},"y":{"datum":0}}},
{"transform":[{"filter":"datum.t>0&&datum.t%100===0"}],"mark":{"type":"tick","orient":"vertical","size":6},"encoding":{"y":{"datum":0}}},
{"transform":[{"filter":"datum.t===0"}],"mark":{"type":"rule","strokeWidth":1.6},"encoding":{"x":{"datum":0},"y":{"datum":-2},"y2":{"datum":2}}},
{"transform":[{"filter":"datum.t===0"}],"mark":{"type":"tick","orient":"horizontal","size":7},"encoding":{"x":{"datum":0},"y":{"datum":2}}},
{"transform":[{"filter":"datum.t===0"}],"mark":{"type":"tick","orient":"horizontal","size":7},"encoding":{"x":{"datum":0},"y":{"datum":-2}}},
{"mark":{"type":"line","color":"#151515","strokeWidth":1.6,"interpolate":"monotone"}},
{"mark":{"type":"line","color":"#ff3333","strokeWidth":1.3,"strokeDash":[1.5,1.2],"interpolate":"monotone"},"encoding":{"y":{"field":"u","type":"quantitative"}}},
{"transform":[{"filter":"datum.t===0"}],"mark":{"type":"text","align":"right","baseline":"middle","dx":-3},"encoding":{"x":{"datum":-100},"y":{"datum":0},"text":{"field":"ch"}}}
]},
{"width":150,"height":110,"data":{"name":"erp"},"transform":[{"filter":"datum.p==='aFP2'"},{"lookup":"p","from":{"data":{"name":"panels"},"key":"p","fields":["ch"]}}],
"encoding":{"x":{"field":"t","type":"quantitative","scale":{"domain":[-291.3,1032.6],"nice":false,"zero":false},"axis":null},"y":{"field":"k","type":"quantitative","scale":{"domain":[-1.504,6.767],"nice":false,"zero":false},"axis":null}},
"layer":[
{"transform":[{"filter":"datum.t===0"}],"mark":"rule","encoding":{"x":{"datum":-100},"x2":{"datum":700},"y":{"datum":0}}},
{"transform":[{"filter":"datum.t>0&&datum.t%100===0"}],"mark":{"type":"tick","orient":"vertical","size":6},"encoding":{"y":{"datum":0}}},
{"transform":[{"filter":"datum.t===0"}],"mark":{"type":"rule","strokeWidth":1.6},"encoding":{"x":{"datum":0},"y":{"datum":-2},"y2":{"datum":2}}},
{"transform":[{"filter":"datum.t===0"}],"mark":{"type":"tick","orient":"horizontal","size":7},"encoding":{"x":{"datum":0},"y":{"datum":2}}},
{"transform":[{"filter":"datum.t===0"}],"mark":{"type":"tick","orient":"horizontal","size":7},"encoding":{"x":{"datum":0},"y":{"datum":-2}}},
{"mark":{"type":"line","color":"#151515","strokeWidth":1.6,"interpolate":"monotone"}},
{"mark":{"type":"line","color":"#ff3333","strokeWidth":1.3,"strokeDash":[1.5,1.2],"interpolate":"monotone"},"encoding":{"y":{"field":"u","type":"quantitative"}}},
{"transform":[{"filter":"datum.t===0"}],"mark":{"type":"text","align":"right","baseline":"middle","dx":-3},"encoding":{"x":{"datum":-100},"y":{"datum":0},"text":{"field":"ch"}}}
]},
{"width":150,"height":110,"data":{"name":"erp"},"transform":[{"filter":"datum.p==='bFP1'"},{"lookup":"p","from":{"data":{"name":"panels"},"key":"p","fields":["ch","title","lk","lu"]}}],
"encoding":{"x":{"field":"t","type":"quantitative","scale":{"domain":[-695.8,647.4],"nice":false,"zero":false},"axis":null},"y":{"field":"k","type":"quantitative","scale":{"domain":[-1.707,6.564],"nice":false,"zero":false},"axis":null}},
"layer":[
{"transform":[{"filter":"datum.t===0"}],"mark":"rule","encoding":{"x":{"datum":-100},"x2":{"datum":700},"y":{"datum":0}}},
{"transform":[{"filter":"datum.t>0&&datum.t%100===0"}],"mark":{"type":"tick","orient":"vertical","size":6},"encoding":{"y":{"datum":0}}},
{"transform":[{"filter":"datum.t===0"}],"mark":{"type":"rule","strokeWidth":1.6},"encoding":{"x":{"datum":0},"y":{"datum":-2},"y2":{"datum":2}}},
{"transform":[{"filter":"datum.t===0"}],"mark":{"type":"tick","orient":"horizontal","size":7},"encoding":{"x":{"datum":0},"y":{"datum":2}}},
{"transform":[{"filter":"datum.t===0"}],"mark":{"type":"tick","orient":"horizontal","size":7},"encoding":{"x":{"datum":0},"y":{"datum":-2}}},
{"mark":{"type":"line","color":"#151515","strokeWidth":1.6,"interpolate":"monotone"}},
{"mark":{"type":"line","color":"#ff3333","strokeWidth":1.3,"strokeDash":[1.5,1.2],"interpolate":"monotone"},"encoding":{"y":{"field":"u","type":"quantitative"}}},
{"transform":[{"filter":"datum.t===0"}],"mark":{"type":"text","align":"right","baseline":"middle","dx":-4},"encoding":{"x":{"datum":-100},"y":{"datum":0},"text":{"field":"ch"}}},
{"transform":[{"filter":"datum.t===0"}],"mark":{"type":"text","align":"left","baseline":"alphabetic","fontWeight":"bold","fontSize":38,"color":"#000"},"encoding":{"x":{"datum":-412},"y":{"datum":3.932},"text":{"field":"title"}}},
{"transform":[{"filter":"datum.t===0"}],"mark":{"type":"rule","color":"#151515","strokeWidth":1.3},"encoding":{"x":{"datum":-657.3},"y":{"datum":2.805},"y2":{"datum":-24.0}}},
{"transform":[{"filter":"datum.t===0"}],"mark":{"type":"rule","color":"#151515","strokeWidth":1.6},"encoding":{"x":{"datum":782},"x2":{"datum":1066},"y":{"datum":5.61}}},
{"transform":[{"filter":"datum.t===0"}],"mark":{"type":"rule","color":"#ff3333","strokeWidth":1.3,"strokeDash":[1.5,1.2]},"encoding":{"x":{"datum":782},"x2":{"datum":1066},"y":{"datum":3.31}}},
{"transform":[{"filter":"datum.t===0"}],"mark":{"type":"text","align":"left","baseline":"middle","fontWeight":"bold","fontSize":14,"color":"#000"},"encoding":{"x":{"datum":1131},"y":{"datum":5.68},"text":{"field":"lk"}}},
{"transform":[{"filter":"datum.t===0"}],"mark":{"type":"text","align":"left","baseline":"middle","fontWeight":"bold","fontSize":14,"color":"#000"},"encoding":{"x":{"datum":1131},"y":{"datum":3.37},"text":{"field":"lu"}}}
]},
{"width":150,"height":110,"data":{"name":"erp"},"transform":[{"filter":"datum.p==='bFPz'"},{"lookup":"p","from":{"data":{"name":"panels"},"key":"p","fields":["ch"]}}],
"encoding":{"x":{"field":"t","type":"quantitative","scale":{"domain":[-557.9,785.3],"nice":false,"zero":false},"axis":null},"y":{"field":"k","type":"quantitative","scale":{"domain":[-1.707,6.564],"nice":false,"zero":false},"axis":null}},
"layer":[
{"transform":[{"filter":"datum.t===0"}],"mark":"rule","encoding":{"x":{"datum":-100},"x2":{"datum":700},"y":{"datum":0}}},
{"transform":[{"filter":"datum.t>0&&datum.t%100===0"}],"mark":{"type":"tick","orient":"vertical","size":6},"encoding":{"y":{"datum":0}}},
{"transform":[{"filter":"datum.t===0"}],"mark":{"type":"rule","strokeWidth":1.6},"encoding":{"x":{"datum":0},"y":{"datum":-2},"y2":{"datum":2}}},
{"transform":[{"filter":"datum.t===0"}],"mark":{"type":"tick","orient":"horizontal","size":7},"encoding":{"x":{"datum":0},"y":{"datum":2}}},
{"transform":[{"filter":"datum.t===0"}],"mark":{"type":"tick","orient":"horizontal","size":7},"encoding":{"x":{"datum":0},"y":{"datum":-2}}},
{"mark":{"type":"line","color":"#151515","strokeWidth":1.6,"interpolate":"monotone"}},
{"mark":{"type":"line","color":"#ff3333","strokeWidth":1.3,"strokeDash":[1.5,1.2],"interpolate":"monotone"},"encoding":{"y":{"field":"u","type":"quantitative"}}},
{"transform":[{"filter":"datum.t===0"}],"mark":{"type":"text","align":"right","baseline":"middle","dx":-4},"encoding":{"x":{"datum":-100},"y":{"datum":0},"text":{"field":"ch"}}}
]},
{"width":150,"height":110,"data":{"name":"erp"},"transform":[{"filter":"datum.p==='bFP2'"},{"lookup":"p","from":{"data":{"name":"panels"},"key":"p","fields":["ch"]}}],
"encoding":{"x":{"field":"t","type":"quantitative","scale":{"domain":[-418.2,925.0],"nice":false,"zero":false},"axis":null},"y":{"field":"k","type":"quantitative","scale":{"domain":[-1.707,6.564],"nice":false,"zero":false},"axis":null}},
"layer":[
{"transform":[{"filter":"datum.t===0"}],"mark":"rule","encoding":{"x":{"datum":-100},"x2":{"datum":700},"y":{"datum":0}}},
{"transform":[{"filter":"datum.t>0&&datum.t%100===0"}],"mark":{"type":"tick","orient":"vertical","size":6},"encoding":{"y":{"datum":0}}},
{"transform":[{"filter":"datum.t===0"}],"mark":{"type":"rule","strokeWidth":1.6},"encoding":{"x":{"datum":0},"y":{"datum":-2},"y2":{"datum":2}}},
{"transform":[{"filter":"datum.t===0"}],"mark":{"type":"tick","orient":"horizontal","size":7},"encoding":{"x":{"datum":0},"y":{"datum":2}}},
{"transform":[{"filter":"datum.t===0"}],"mark":{"type":"tick","orient":"horizontal","size":7},"encoding":{"x":{"datum":0},"y":{"datum":-2}}},
{"mark":{"type":"line","color":"#151515","strokeWidth":1.6,"interpolate":"monotone"}},
{"mark":{"type":"line","color":"#ff3333","strokeWidth":1.3,"strokeDash":[1.5,1.2],"interpolate":"monotone"},"encoding":{"y":{"field":"u","type":"quantitative"}}},
{"transform":[{"filter":"datum.t===0"}],"mark":{"type":"text","align":"right","baseline":"middle","dx":-4},"encoding":{"x":{"datum":-100},"y":{"datum":0},"text":{"field":"ch"}}}
]},
{"width":150,"height":110,"data":{"name":"erp"},"transform":[{"filter":"datum.p==='aC3'"},{"lookup":"p","from":{"data":{"name":"panels"},"key":"p","fields":["ch"]}}],
"encoding":{"x":{"field":"t","type":"quantitative","scale":{"domain":[-397.2,926.7],"nice":false,"zero":false},"axis":null},"y":{"field":"k","type":"quantitative","scale":{"domain":[-1.557,6.714],"nice":false,"zero":false},"axis":null}},
"layer":[
{"transform":[{"filter":"datum.t===0"}],"mark":"rule","encoding":{"x":{"datum":-100},"x2":{"datum":700},"y":{"datum":0}}},
{"transform":[{"filter":"datum.t>0&&datum.t%100===0"}],"mark":{"type":"tick","orient":"vertical","size":6},"encoding":{"y":{"datum":0}}},
{"transform":[{"filter":"datum.t===0"}],"mark":{"type":"rule","strokeWidth":1.6},"encoding":{"x":{"datum":0},"y":{"datum":-2},"y2":{"datum":2}}},
{"transform":[{"filter":"datum.t===0"}],"mark":{"type":"tick","orient":"horizontal","size":7},"encoding":{"x":{"datum":0},"y":{"datum":2}}},
{"transform":[{"filter":"datum.t===0"}],"mark":{"type":"tick","orient":"horizontal","size":7},"encoding":{"x":{"datum":0},"y":{"datum":-2}}},
{"mark":{"type":"line","color":"#151515","strokeWidth":1.6,"interpolate":"monotone"}},
{"mark":{"type":"line","color":"#ff3333","strokeWidth":1.3,"strokeDash":[1.5,1.2],"interpolate":"monotone"},"encoding":{"y":{"field":"u","type":"quantitative"}}},
{"transform":[{"filter":"datum.t===0"}],"mark":{"type":"text","align":"right","baseline":"middle","dx":-8},"encoding":{"x":{"datum":-100},"y":{"datum":0},"text":{"field":"ch"}}}
]},
{"width":150,"height":110,"data":{"name":"erp"},"transform":[{"filter":"datum.p==='aCz'"},{"lookup":"p","from":{"data":{"name":"panels"},"key":"p","fields":["ch"]}}],
"encoding":{"x":{"field":"t","type":"quantitative","scale":{"domain":[-456.3,867.6],"nice":false,"zero":false},"axis":null},"y":{"field":"k","type":"quantitative","scale":{"domain":[-1.557,6.714],"nice":false,"zero":false},"axis":null}},
"layer":[
{"transform":[{"filter":"datum.t===0"}],"mark":"rule","encoding":{"x":{"datum":-100},"x2":{"datum":700},"y":{"datum":0}}},
{"transform":[{"filter":"datum.t>0&&datum.t%100===0"}],"mark":{"type":"tick","orient":"vertical","size":6},"encoding":{"y":{"datum":0}}},
{"transform":[{"filter":"datum.t===0"}],"mark":{"type":"rule","strokeWidth":1.6},"encoding":{"x":{"datum":0},"y":{"datum":-2},"y2":{"datum":2}}},
{"transform":[{"filter":"datum.t===0"}],"mark":{"type":"tick","orient":"horizontal","size":7},"encoding":{"x":{"datum":0},"y":{"datum":2}}},
{"transform":[{"filter":"datum.t===0"}],"mark":{"type":"tick","orient":"horizontal","size":7},"encoding":{"x":{"datum":0},"y":{"datum":-2}}},
{"mark":{"type":"line","color":"#151515","strokeWidth":1.6,"interpolate":"monotone"}},
{"mark":{"type":"line","color":"#ff3333","strokeWidth":1.3,"strokeDash":[1.5,1.2],"interpolate":"monotone"},"encoding":{"y":{"field":"u","type":"quantitative"}}},
{"transform":[{"filter":"datum.t===0"}],"mark":{"type":"text","align":"right","baseline":"middle","dx":-8},"encoding":{"x":{"datum":-100},"y":{"datum":0},"text":{"field":"ch"}}}
]},
{"width":150,"height":110,"data":{"name":"erp"},"transform":[{"filter":"datum.p==='aC4'"},{"lookup":"p","from":{"data":{"name":"panels"},"key":"p","fields":["ch"]}}],
"encoding":{"x":{"field":"t","type":"quantitative","scale":{"domain":[-514.6,809.3],"nice":false,"zero":false},"axis":null},"y":{"field":"k","type":"quantitative","scale":{"domain":[-1.557,6.714],"nice":false,"zero":false},"axis":null}},
"layer":[
{"transform":[{"filter":"datum.t===0"}],"mark":"rule","encoding":{"x":{"datum":-100},"x2":{"datum":700},"y":{"datum":0}}},
{"transform":[{"filter":"datum.t>0&&datum.t%100===0"}],"mark":{"type":"tick","orient":"vertical","size":6},"encoding":{"y":{"datum":0}}},
{"transform":[{"filter":"datum.t===0"}],"mark":{"type":"rule","strokeWidth":1.6},"encoding":{"x":{"datum":0},"y":{"datum":-2},"y2":{"datum":2}}},
{"transform":[{"filter":"datum.t===0"}],"mark":{"type":"tick","orient":"horizontal","size":7},"encoding":{"x":{"datum":0},"y":{"datum":2}}},
{"transform":[{"filter":"datum.t===0"}],"mark":{"type":"tick","orient":"horizontal","size":7},"encoding":{"x":{"datum":0},"y":{"datum":-2}}},
{"mark":{"type":"line","color":"#151515","strokeWidth":1.6,"interpolate":"monotone"}},
{"mark":{"type":"line","color":"#ff3333","strokeWidth":1.3,"strokeDash":[1.5,1.2],"interpolate":"monotone"},"encoding":{"y":{"field":"u","type":"quantitative"}}},
{"transform":[{"filter":"datum.t===0"}],"mark":{"type":"text","align":"right","baseline":"middle","dx":-8},"encoding":{"x":{"datum":-100},"y":{"datum":0},"text":{"field":"ch"}}}
]},
{"width":150,"height":110,"data":{"name":"erp"},"transform":[{"filter":"datum.p==='bC3'"},{"lookup":"p","from":{"data":{"name":"panels"},"key":"p","fields":["ch"]}}],
"encoding":{"x":{"field":"t","type":"quantitative","scale":{"domain":[-477.3,865.9],"nice":false,"zero":false},"axis":null},"y":{"field":"k","type":"quantitative","scale":{"domain":[-1.677,6.594],"nice":false,"zero":false},"axis":null}},
"layer":[
{"transform":[{"filter":"datum.t===0"}],"mark":"rule","encoding":{"x":{"datum":-100},"x2":{"datum":700},"y":{"datum":0}}},
{"transform":[{"filter":"datum.t>0&&datum.t%100===0"}],"mark":{"type":"tick","orient":"vertical","size":6},"encoding":{"y":{"datum":0}}},
{"transform":[{"filter":"datum.t===0"}],"mark":{"type":"rule","strokeWidth":1.6},"encoding":{"x":{"datum":0},"y":{"datum":-2},"y2":{"datum":2}}},
{"transform":[{"filter":"datum.t===0"}],"mark":{"type":"tick","orient":"horizontal","size":7},"encoding":{"x":{"datum":0},"y":{"datum":2}}},
{"transform":[{"filter":"datum.t===0"}],"mark":{"type":"tick","orient":"horizontal","size":7},"encoding":{"x":{"datum":0},"y":{"datum":-2}}},
{"mark":{"type":"line","color":"#151515","strokeWidth":1.6,"interpolate":"monotone"}},
{"mark":{"type":"line","color":"#ff3333","strokeWidth":1.3,"strokeDash":[1.5,1.2],"interpolate":"monotone"},"encoding":{"y":{"field":"u","type":"quantitative"}}},
{"transform":[{"filter":"datum.t===0"}],"mark":{"type":"text","align":"right","baseline":"middle","dx":-9},"encoding":{"x":{"datum":-100},"y":{"datum":0},"text":{"field":"ch"}}}
]},
{"width":150,"height":110,"data":{"name":"erp"},"transform":[{"filter":"datum.p==='bCz'"},{"lookup":"p","from":{"data":{"name":"panels"},"key":"p","fields":["ch"]}}],
"encoding":{"x":{"field":"t","type":"quantitative","scale":{"domain":[-557.9,785.3],"nice":false,"zero":false},"axis":null},"y":{"field":"k","type":"quantitative","scale":{"domain":[-1.677,6.594],"nice":false,"zero":false},"axis":null}},
"layer":[
{"transform":[{"filter":"datum.t===0"}],"mark":"rule","encoding":{"x":{"datum":-100},"x2":{"datum":700},"y":{"datum":0}}},
{"transform":[{"filter":"datum.t>0&&datum.t%100===0"}],"mark":{"type":"tick","orient":"vertical","size":6},"encoding":{"y":{"datum":0}}},
{"transform":[{"filter":"datum.t===0"}],"mark":{"type":"rule","strokeWidth":1.6},"encoding":{"x":{"datum":0},"y":{"datum":-2},"y2":{"datum":2}}},
{"transform":[{"filter":"datum.t===0"}],"mark":{"type":"tick","orient":"horizontal","size":7},"encoding":{"x":{"datum":0},"y":{"datum":2}}},
{"transform":[{"filter":"datum.t===0"}],"mark":{"type":"tick","orient":"horizontal","size":7},"encoding":{"x":{"datum":0},"y":{"datum":-2}}},
{"mark":{"type":"line","color":"#151515","strokeWidth":1.6,"interpolate":"monotone"}},
{"mark":{"type":"line","color":"#ff3333","strokeWidth":1.3,"strokeDash":[1.5,1.2],"interpolate":"monotone"},"encoding":{"y":{"field":"u","type":"quantitative"}}},
{"transform":[{"filter":"datum.t===0"}],"mark":{"type":"text","align":"right","baseline":"middle","dx":-9},"encoding":{"x":{"datum":-100},"y":{"datum":0},"text":{"field":"ch"}}}
]},
{"width":150,"height":110,"data":{"name":"erp"},"transform":[{"filter":"datum.p==='bC4'"},{"lookup":"p","from":{"data":{"name":"panels"},"key":"p","fields":["ch"]}}],
"encoding":{"x":{"field":"t","type":"quantitative","scale":{"domain":[-642.1,701.1],"nice":false,"zero":false},"axis":null},"y":{"field":"k","type":"quantitative","scale":{"domain":[-1.677,6.594],"nice":false,"zero":false},"axis":null}},
"layer":[
{"transform":[{"filter":"datum.t===0"}],"mark":"rule","encoding":{"x":{"datum":-100},"x2":{"datum":700},"y":{"datum":0}}},
{"transform":[{"filter":"datum.t>0&&datum.t%100===0"}],"mark":{"type":"tick","orient":"vertical","size":6},"encoding":{"y":{"datum":0}}},
{"transform":[{"filter":"datum.t===0"}],"mark":{"type":"rule","strokeWidth":1.6},"encoding":{"x":{"datum":0},"y":{"datum":-2},"y2":{"datum":2}}},
{"transform":[{"filter":"datum.t===0"}],"mark":{"type":"tick","orient":"horizontal","size":7},"encoding":{"x":{"datum":0},"y":{"datum":2}}},
{"transform":[{"filter":"datum.t===0"}],"mark":{"type":"tick","orient":"horizontal","size":7},"encoding":{"x":{"datum":0},"y":{"datum":-2}}},
{"mark":{"type":"line","color":"#151515","strokeWidth":1.6,"interpolate":"monotone"}},
{"mark":{"type":"line","color":"#ff3333","strokeWidth":1.3,"strokeDash":[1.5,1.2],"interpolate":"monotone"},"encoding":{"y":{"field":"u","type":"quantitative"}}},
{"transform":[{"filter":"datum.t===0"}],"mark":{"type":"text","align":"right","baseline":"middle","dx":-9},"encoding":{"x":{"datum":-100},"y":{"datum":0},"text":{"field":"ch"}}}
]},
{"width":150,"height":110,"data":{"name":"erp"},"transform":[{"filter":"datum.p==='aO1'"},{"lookup":"p","from":{"data":{"name":"panels"},"key":"p","fields":["ch"]}}],
"encoding":{"x":{"field":"t","type":"quantitative","scale":{"domain":[-611.6,712.3],"nice":false,"zero":false},"axis":null},"y":{"field":"k","type":"quantitative","scale":{"domain":[-1.256,7.015],"nice":false,"zero":false},"axis":null}},
"layer":[
{"transform":[{"filter":"datum.t===0"}],"mark":"rule","encoding":{"x":{"datum":-100},"x2":{"datum":700},"y":{"datum":0}}},
{"transform":[{"filter":"datum.t>0&&datum.t%100===0"}],"mark":{"type":"tick","orient":"vertical","size":6},"encoding":{"y":{"datum":0}}},
{"transform":[{"filter":"datum.t===0"}],"mark":{"type":"rule","strokeWidth":1.6},"encoding":{"x":{"datum":0},"y":{"datum":-2},"y2":{"datum":2}}},
{"transform":[{"filter":"datum.t===0"}],"mark":{"type":"tick","orient":"horizontal","size":7},"encoding":{"x":{"datum":0},"y":{"datum":2}}},
{"transform":[{"filter":"datum.t===0"}],"mark":{"type":"tick","orient":"horizontal","size":7},"encoding":{"x":{"datum":0},"y":{"datum":-2}}},
{"mark":{"type":"line","color":"#151515","strokeWidth":1.6,"interpolate":"monotone"}},
{"mark":{"type":"line","color":"#ff3333","strokeWidth":1.3,"strokeDash":[1.5,1.2],"interpolate":"monotone"},"encoding":{"y":{"field":"u","type":"quantitative"}}},
{"transform":[{"filter":"datum.t===0"}],"mark":{"type":"text","align":"right","baseline":"middle","dx":-9},"encoding":{"x":{"datum":-100},"y":{"datum":0},"text":{"field":"ch"}}}
]},
{"width":150,"height":110,"data":{"name":"erp"},"transform":[{"filter":"datum.p==='aOz'"},{"lookup":"p","from":{"data":{"name":"panels"},"key":"p","fields":["ch"]}}],
"encoding":{"x":{"field":"t","type":"quantitative","scale":{"domain":[-456.3,867.6],"nice":false,"zero":false},"axis":null},"y":{"field":"k","type":"quantitative","scale":{"domain":[-1.256,7.015],"nice":false,"zero":false},"axis":null}},
"layer":[
{"transform":[{"filter":"datum.t===0"}],"mark":"rule","encoding":{"x":{"datum":-100},"x2":{"datum":700},"y":{"datum":0}}},
{"transform":[{"filter":"datum.t>0&&datum.t%100===0"}],"mark":{"type":"tick","orient":"vertical","size":6},"encoding":{"y":{"datum":0}}},
{"transform":[{"filter":"datum.t===0"}],"mark":{"type":"rule","strokeWidth":1.6},"encoding":{"x":{"datum":0},"y":{"datum":-2},"y2":{"datum":2}}},
{"transform":[{"filter":"datum.t===0"}],"mark":{"type":"tick","orient":"horizontal","size":7},"encoding":{"x":{"datum":0},"y":{"datum":2}}},
{"transform":[{"filter":"datum.t===0"}],"mark":{"type":"tick","orient":"horizontal","size":7},"encoding":{"x":{"datum":0},"y":{"datum":-2}}},
{"mark":{"type":"line","color":"#151515","strokeWidth":1.6,"interpolate":"monotone"}},
{"mark":{"type":"line","color":"#ff3333","strokeWidth":1.3,"strokeDash":[1.5,1.2],"interpolate":"monotone"},"encoding":{"y":{"field":"u","type":"quantitative"}}},
{"transform":[{"filter":"datum.t===0"}],"mark":{"type":"text","align":"right","baseline":"middle","dx":-9},"encoding":{"x":{"datum":-100},"y":{"datum":0},"text":{"field":"ch"}}}
]},
{"width":150,"height":110,"data":{"name":"erp"},"transform":[{"filter":"datum.p==='aO2'"},{"lookup":"p","from":{"data":{"name":"panels"},"key":"p","fields":["ch"]}}],
"encoding":{"x":{"field":"t","type":"quantitative","scale":{"domain":[-293.9,1030.0],"nice":false,"zero":false},"axis":null},"y":{"field":"k","type":"quantitative","scale":{"domain":[-1.256,7.015],"nice":false,"zero":false},"axis":null}},
"layer":[
{"transform":[{"filter":"datum.t===0"}],"mark":"rule","encoding":{"x":{"datum":-100},"x2":{"datum":700},"y":{"datum":0}}},
{"transform":[{"filter":"datum.t>0&&datum.t%100===0"}],"mark":{"type":"tick","orient":"vertical","size":6},"encoding":{"y":{"datum":0}}},
{"transform":[{"filter":"datum.t===0"}],"mark":{"type":"rule","strokeWidth":1.6},"encoding":{"x":{"datum":0},"y":{"datum":-2},"y2":{"datum":2}}},
{"transform":[{"filter":"datum.t===0"}],"mark":{"type":"tick","orient":"horizontal","size":7},"encoding":{"x":{"datum":0},"y":{"datum":2}}},
{"transform":[{"filter":"datum.t===0"}],"mark":{"type":"tick","orient":"horizontal","size":7},"encoding":{"x":{"datum":0},"y":{"datum":-2}}},
{"mark":{"type":"line","color":"#151515","strokeWidth":1.6,"interpolate":"monotone"}},
{"mark":{"type":"line","color":"#ff3333","strokeWidth":1.3,"strokeDash":[1.5,1.2],"interpolate":"monotone"},"encoding":{"y":{"field":"u","type":"quantitative"}}},
{"transform":[{"filter":"datum.t===0"}],"mark":{"type":"text","align":"right","baseline":"middle","dx":-9},"encoding":{"x":{"datum":-100},"y":{"datum":0},"text":{"field":"ch"}}}
]},
{"width":150,"height":110,"data":{"name":"erp"},"transform":[{"filter":"datum.p==='bO1'"},{"lookup":"p","from":{"data":{"name":"panels"},"key":"p","fields":["ch"]}}],
"encoding":{"x":{"field":"t","type":"quantitative","scale":{"domain":[-695.8,647.4],"nice":false,"zero":false},"axis":null},"y":{"field":"k","type":"quantitative","scale":{"domain":[-1.301,6.970],"nice":false,"zero":false},"axis":null}},
"layer":[
{"transform":[{"filter":"datum.t===0"}],"mark":"rule","encoding":{"x":{"datum":-100},"x2":{"datum":700},"y":{"datum":0}}},
{"transform":[{"filter":"datum.t>0&&datum.t%100===0"}],"mark":{"type":"tick","orient":"vertical","size":6},"encoding":{"y":{"datum":0}}},
{"transform":[{"filter":"datum.t===0"}],"mark":{"type":"rule","strokeWidth":1.6},"encoding":{"x":{"datum":0},"y":{"datum":-2},"y2":{"datum":2}}},
{"transform":[{"filter":"datum.t===0"}],"mark":{"type":"tick","orient":"horizontal","size":7},"encoding":{"x":{"datum":0},"y":{"datum":2}}},
{"transform":[{"filter":"datum.t===0"}],"mark":{"type":"tick","orient":"horizontal","size":7},"encoding":{"x":{"datum":0},"y":{"datum":-2}}},
{"mark":{"type":"line","color":"#151515","strokeWidth":1.6,"interpolate":"monotone"}},
{"mark":{"type":"line","color":"#ff3333","strokeWidth":1.3,"strokeDash":[1.5,1.2],"interpolate":"monotone"},"encoding":{"y":{"field":"u","type":"quantitative"}}},
{"transform":[{"filter":"datum.t===0"}],"mark":{"type":"text","align":"right","baseline":"middle","dx":-9},"encoding":{"x":{"datum":-100},"y":{"datum":0},"text":{"field":"ch"}}}
]},
{"width":150,"height":110,"data":{"name":"erp"},"transform":[{"filter":"datum.p==='bOz'"},{"lookup":"p","from":{"data":{"name":"panels"},"key":"p","fields":["ch"]}}],
"encoding":{"x":{"field":"t","type":"quantitative","scale":{"domain":[-557.9,785.3],"nice":false,"zero":false},"axis":null},"y":{"field":"k","type":"quantitative","scale":{"domain":[-1.301,6.970],"nice":false,"zero":false},"axis":null}},
"layer":[
{"transform":[{"filter":"datum.t===0"}],"mark":"rule","encoding":{"x":{"datum":-100},"x2":{"datum":700},"y":{"datum":0}}},
{"transform":[{"filter":"datum.t>0&&datum.t%100===0"}],"mark":{"type":"tick","orient":"vertical","size":6},"encoding":{"y":{"datum":0}}},
{"transform":[{"filter":"datum.t===0"}],"mark":{"type":"rule","strokeWidth":1.6},"encoding":{"x":{"datum":0},"y":{"datum":-2},"y2":{"datum":2}}},
{"transform":[{"filter":"datum.t===0"}],"mark":{"type":"tick","orient":"horizontal","size":7},"encoding":{"x":{"datum":0},"y":{"datum":2}}},
{"transform":[{"filter":"datum.t===0"}],"mark":{"type":"tick","orient":"horizontal","size":7},"encoding":{"x":{"datum":0},"y":{"datum":-2}}},
{"mark":{"type":"line","color":"#151515","strokeWidth":1.6,"interpolate":"monotone"}},
{"mark":{"type":"line","color":"#ff3333","strokeWidth":1.3,"strokeDash":[1.5,1.2],"interpolate":"monotone"},"encoding":{"y":{"field":"u","type":"quantitative"}}},
{"transform":[{"filter":"datum.t===0"}],"mark":{"type":"text","align":"right","baseline":"middle","dx":-9},"encoding":{"x":{"datum":-100},"y":{"datum":0},"text":{"field":"ch"}}}
]},
{"width":150,"height":110,"data":{"name":"erp"},"transform":[{"filter":"datum.p==='bO2'"},{"lookup":"p","from":{"data":{"name":"panels"},"key":"p","fields":["ch"]}}],
"encoding":{"x":{"field":"t","type":"quantitative","scale":{"domain":[-418.2,925.0],"nice":false,"zero":false},"axis":null},"y":{"field":"k","type":"quantitative","scale":{"domain":[-1.301,6.970],"nice":false,"zero":false},"axis":null}},
"layer":[
{"transform":[{"filter":"datum.t===0"}],"mark":"rule","encoding":{"x":{"datum":-100},"x2":{"datum":700},"y":{"datum":0}}},
{"transform":[{"filter":"datum.t>0&&datum.t%100===0"}],"mark":{"type":"tick","orient":"vertical","size":6},"encoding":{"y":{"datum":0}}},
{"transform":[{"filter":"datum.t===0"}],"mark":{"type":"rule","strokeWidth":1.6},"encoding":{"x":{"datum":0},"y":{"datum":-2},"y2":{"datum":2}}},
{"transform":[{"filter":"datum.t===0"}],"mark":{"type":"tick","orient":"horizontal","size":7},"encoding":{"x":{"datum":0},"y":{"datum":2}}},
{"transform":[{"filter":"datum.t===0"}],"mark":{"type":"tick","orient":"horizontal","size":7},"encoding":{"x":{"datum":0},"y":{"datum":-2}}},
{"mark":{"type":"line","color":"#151515","strokeWidth":1.6,"interpolate":"monotone"}},
{"mark":{"type":"line","color":"#ff3333","strokeWidth":1.3,"strokeDash":[1.5,1.2],"interpolate":"monotone"},"encoding":{"y":{"field":"u","type":"quantitative"}}},
{"transform":[{"filter":"datum.t===0"}],"mark":{"type":"text","align":"right","baseline":"middle","dx":-9},"encoding":{"x":{"datum":-100},"y":{"datum":0},"text":{"field":"ch"}}}
]},
{"width":150,"height":110,"data":{"name":"sbticks"},
"encoding":{"x":{"field":"t","type":"quantitative","scale":{"domain":[-3718.3,-2406.0],"nice":false,"zero":false},"axis":null},"y":{"datum":0,"type":"quantitative","scale":{"domain":[0.214,8.071],"nice":false,"zero":false},"axis":null}},
"layer":[
{"transform":[{"filter":"datum.t===0"}],"mark":"rule","encoding":{"x":{"datum":0},"x2":{"datum":700},"y":{"datum":0}}},
{"transform":[{"filter":"datum.t>0"}],"mark":{"type":"tick","orient":"vertical","size":6},"encoding":{"y":{"datum":0}}},
{"transform":[{"filter":"datum.t===0"}],"mark":{"type":"rule","strokeWidth":1.6},"encoding":{"x":{"datum":0},"y":{"datum":0},"y2":{"datum":2}}},
{"transform":[{"filter":"datum.t===0"}],"mark":{"type":"tick","orient":"horizontal","size":7},"encoding":{"x":{"datum":0},"y":{"datum":2}}},
{"transform":[{"filter":"datum.t===0"}],"mark":{"type":"tick","orient":"horizontal","size":3.5},"encoding":{"x":{"datum":-74},"y":{"datum":2}}},
{"transform":[{"filter":"datum.lab!==''"}],"mark":{"type":"text","baseline":"middle","dy":8.5,"fontSize":11},"encoding":{"y":{"datum":0},"text":{"field":"lab"}}},
{"transform":[{"filter":"datum.t===0"}],"mark":{"type":"text","align":"right","baseline":"middle","fontSize":11},"encoding":{"x":{"datum":-87},"y":{"datum":1.0},"text":{"field":"unit"}}}
]}
]
}
